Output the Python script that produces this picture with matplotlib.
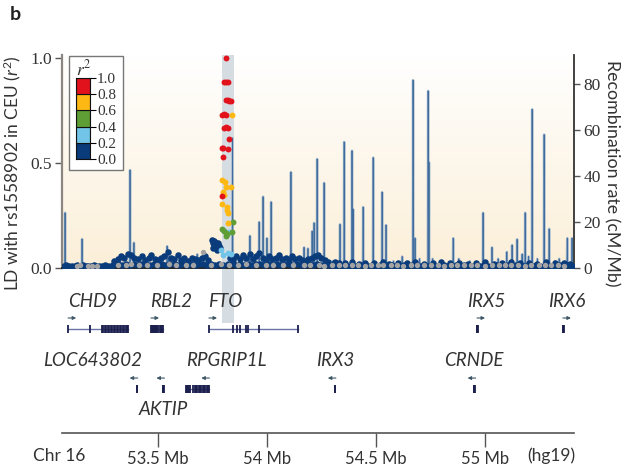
import numpy as np
import matplotlib
matplotlib.use("Agg")
import matplotlib.pyplot as plt
from matplotlib.patches import Rectangle
from matplotlib.colors import LinearSegmentedColormap

plt.rcParams["font.family"] = ["Lato", "DejaVu Sans"]
plt.rcParams["mathtext.fontset"] = "custom"
plt.rcParams["mathtext.it"] = "Lato:italic"
plt.rcParams["mathtext.rm"] = "Lato"

# ---- data -----------------------------------------------------------------
x_min, x_max = 53.06, 55.408
band_start, band_end = 53.794, 53.849   # highlighted region around rs1558902

# recombination rate peaks (cM/Mb)
recomb_pos = [53.074, 53.152, 53.372, 53.390, 53.542, 53.842, 53.922, 53.964,
              53.982, 54.000, 54.019, 54.051, 54.110, 54.170, 54.188, 54.207,
              54.216, 54.230, 54.262, 54.335, 54.354, 54.390, 54.395, 54.441,
              54.487, 54.528, 54.546, 54.670, 54.679, 54.739, 54.743, 54.854,
              54.991, 55.032, 55.124, 55.147, 55.184, 55.216, 55.271, 55.294,
              55.377, 55.399,
              53.55, 53.60, 53.63, 53.68, 53.70, 53.90, 54.06, 54.30, 54.58,
              54.62, 54.70, 54.76, 54.80, 54.88, 54.93, 55.06, 55.10, 55.17,
              55.20, 55.24, 55.32, 55.34]
recomb_rate = [24, 12.6, 42.6, 11, 9.5, 56.5, 14, 20,
               31, 13, 28.7, 6, 41.7, 9, 8.5, 16,
               19.6, 47.4, 37, 19, 54.8, 51, 25.6, 26.5,
               48, 33, 18.7, 81.7, 13, 77, 46, 13,
               24, 9, 10, 12.5, 24, 69, 58, 17,
               13, 13,
               5, 4, 3, 6, 4, 5, 4, 3, 3,
               5, 4, 4, 3, 4, 3, 4, 7, 6,
               5, 4, 3, 4]

# SNPs with r2 < 0.2
navy_pos = [53.068, 53.080, 53.093, 53.105, 53.118, 53.130, 53.142, 53.155, 53.168,
            53.180, 53.193, 53.206, 53.218, 53.231, 53.244, 53.257, 53.270, 53.283,
            53.296, 53.315, 53.333, 53.352, 53.371, 53.389, 53.408, 53.427, 53.445,
            53.464, 53.483, 53.501, 53.520, 53.539, 53.557, 53.576, 53.595, 53.613,
            53.632, 53.651, 53.669, 53.688, 53.707, 53.725, 53.744, 53.763, 53.781,
            53.800, 53.819, 53.837, 53.856, 53.875, 53.893, 53.912, 53.931, 53.949,
            53.968, 53.987, 54.005, 54.024, 54.043, 54.061, 54.080, 54.099, 54.117,
            54.136, 54.155, 54.173, 54.192, 54.211, 54.229, 54.248, 54.267, 54.285,
            53.300, 53.318, 53.330, 53.345, 53.362, 53.375, 53.392, 53.410, 53.425,
            53.440, 53.458, 53.470, 53.485, 53.500, 53.515, 53.530, 53.545, 53.560,
            53.575, 53.590, 53.605, 53.620, 53.640, 53.655, 53.670, 53.685, 53.700,
            53.715, 53.730,
            53.749, 53.752, 53.756, 53.760, 53.764, 53.768, 53.772, 53.776, 53.780,
            53.783, 53.752, 53.770,
            53.830, 53.845, 53.860, 53.875, 53.890, 53.905, 53.920, 53.935, 53.950,
            53.965, 53.980, 53.995, 54.010, 54.025, 54.040, 54.055, 54.070, 54.085,
            54.100, 54.115, 54.130, 54.145, 54.160, 54.175, 54.190, 54.205, 54.220,
            54.235, 54.250, 54.265, 54.280,
            54.300, 54.318, 54.337, 54.355, 54.373, 54.392, 54.410, 54.428, 54.447,
            54.465, 54.483, 54.502, 54.520, 54.538, 54.557, 54.575, 54.593, 54.612,
            54.630, 54.648, 54.667, 54.685, 54.703, 54.722, 54.740, 54.758, 54.777,
            54.795, 54.813, 54.832, 54.850, 54.868, 54.887, 54.905, 54.923, 54.942,
            54.960, 54.978, 54.997, 55.015, 55.033, 55.052, 55.070, 55.088, 55.107,
            55.125, 55.143, 55.162, 55.180, 55.198, 55.217, 55.235, 55.253, 55.272,
            55.290, 55.308, 55.327, 55.345, 55.363, 55.382, 55.398,
            54.310, 54.330, 54.360, 54.390, 54.420, 54.450, 54.490, 54.530, 54.560,
            54.600, 54.640, 54.680, 54.720, 54.760, 54.800, 54.840, 54.880, 54.920,
            54.960, 55.000, 55.040, 55.080, 55.120, 55.160, 55.200, 55.240, 55.280,
            55.320, 55.360, 55.390]
navy_r2 = [0.010, 0.012, 0.009, 0.011, 0.010, 0.013, 0.010, 0.012, 0.009,
           0.011, 0.010, 0.012, 0.011, 0.009, 0.010, 0.012, 0.011, 0.010,
           0.015, 0.018, 0.014, 0.020, 0.016, 0.019, 0.015, 0.017, 0.021,
           0.014, 0.018, 0.016, 0.020, 0.015, 0.019, 0.017, 0.014, 0.018,
           0.016, 0.021, 0.015, 0.018, 0.017, 0.014, 0.019, 0.016, 0.020,
           0.015, 0.018, 0.017, 0.014, 0.019, 0.016, 0.020, 0.015, 0.018,
           0.017, 0.014, 0.019, 0.016, 0.021, 0.015, 0.018, 0.017, 0.014,
           0.019, 0.016, 0.015, 0.018, 0.014, 0.017, 0.015, 0.013, 0.016,
           0.035, 0.045, 0.055, 0.050, 0.068, 0.060, 0.050, 0.045, 0.055,
           0.040, 0.050, 0.060, 0.045, 0.040, 0.050, 0.055, 0.075, 0.050,
           0.045, 0.060, 0.040, 0.050, 0.035, 0.050, 0.045, 0.040, 0.050,
           0.055, 0.040,
           0.133, 0.120, 0.127, 0.110, 0.118, 0.100, 0.112, 0.120, 0.105,
           0.095, 0.095, 0.085,
           0.050, 0.040, 0.055, 0.045, 0.060, 0.050, 0.065, 0.045, 0.055,
           0.070, 0.050, 0.040, 0.055, 0.045, 0.050, 0.060, 0.045, 0.050,
           0.040, 0.055, 0.045, 0.050, 0.040, 0.035, 0.045, 0.050, 0.055,
           0.060, 0.050, 0.040, 0.030,
           0.012, 0.010, 0.013, 0.011, 0.009, 0.012, 0.010, 0.014, 0.011,
           0.009, 0.012, 0.010, 0.013, 0.011, 0.010, 0.012, 0.009, 0.011,
           0.013, 0.010, 0.012, 0.011, 0.009, 0.012, 0.010, 0.013, 0.011,
           0.010, 0.012, 0.009, 0.011, 0.013, 0.010, 0.012, 0.011, 0.009,
           0.012, 0.010, 0.013, 0.011, 0.010, 0.012, 0.009, 0.011, 0.013,
           0.010, 0.012, 0.011, 0.009, 0.012, 0.010, 0.013, 0.011, 0.010,
           0.012, 0.009, 0.011, 0.013, 0.010, 0.012, 0.011,
           0.030, 0.025, 0.022, 0.028, 0.020, 0.025, 0.022, 0.030, 0.020,
           0.025, 0.022, 0.028, 0.020, 0.025, 0.030, 0.022, 0.026, 0.020,
           0.024, 0.028, 0.020, 0.025, 0.030, 0.022, 0.026, 0.020, 0.028,
           0.022, 0.025, 0.020]

# SNPs without LD information
gray_pos = [53.128, 53.142, 53.178, 53.196, 53.222, 53.318, 53.352, 53.378, 53.412,
            53.448, 53.497, 53.552, 53.585, 53.628, 53.662, 53.707, 53.742, 53.790,
            53.826, 53.866, 53.902, 53.948, 53.996, 54.028, 54.072, 54.118, 54.168,
            54.198, 54.238, 54.262, 54.296, 54.332, 54.356, 54.392, 54.418, 54.448,
            54.478, 54.510, 54.532, 54.568, 54.596, 54.622, 54.662, 54.690, 54.720,
            54.752, 54.786, 54.810, 54.842, 54.872, 54.904, 54.934, 54.962, 54.998,
            55.030, 55.062, 55.092, 55.118, 55.152, 55.184, 55.212, 55.246, 55.276,
            55.304, 55.336, 55.362]
gray_r2 = [0.010, 0.012, 0.010, 0.011, 0.010, 0.014, 0.012, 0.020, 0.013,
           0.015, 0.012, 0.018, 0.013, 0.016, 0.012, 0.076, 0.015, 0.020,
           0.012, 0.014, 0.018, 0.012, 0.016, 0.013, 0.015, 0.012, 0.014,
           0.012, 0.013, 0.011, 0.013, 0.012, 0.014, 0.012, 0.013, 0.011,
           0.013, 0.012, 0.014, 0.012, 0.013, 0.011, 0.013, 0.012, 0.014,
           0.012, 0.013, 0.011, 0.013, 0.012, 0.014, 0.012, 0.013, 0.011,
           0.013, 0.012, 0.014, 0.012, 0.013, 0.011, 0.013, 0.012, 0.014,
           0.012, 0.013, 0.011]

lblue_pos = [53.799, 53.826, 53.789, 53.821, 53.799, 53.835]
lblue_r2 = [0.181, 0.171, 0.086, 0.071, 0.062, 0.067]

green_pos = [53.794, 53.812, 53.817, 53.812, 53.844, 53.840, 53.803]
green_r2 = [0.186, 0.167, 0.162, 0.152, 0.219, 0.171, 0.176]

yellow_pos = [53.794, 53.808, 53.812, 53.835, 53.799, 53.803, 53.794, 53.817,
              53.817, 53.821, 53.821, 53.840]
yellow_r2 = [0.419, 0.410, 0.386, 0.386, 0.362, 0.348, 0.305, 0.290,
             0.276, 0.262, 0.214, 0.728]

red_pos = [53.812, 53.805, 53.812, 53.819, 53.812, 53.819, 53.826, 53.833,
           53.795, 53.803, 53.810, 53.805, 53.813, 53.820, 53.826, 53.794,
           53.800, 53.821, 53.799, 53.794]
red_r2 = [1.0, 0.886, 0.886, 0.886, 0.800, 0.800, 0.795, 0.797,
          0.728, 0.732, 0.728, 0.667, 0.672, 0.667, 0.614, 0.571,
          0.571, 0.567, 0.529, 0.343]

# genes
gene_names = ["CHD9", "RBL2", "FTO", "IRX5", "IRX6",
              "LOC643802", "AKTIP", "RPGRIP1L", "IRX3", "CRNDE"]
gene_start = [53.088, 53.468, 53.734, 54.963, 55.357,
              53.403, 53.521, 53.629, 54.311, 54.948]
gene_end = [53.363, 53.525, 54.143, 54.966, 55.361,
            53.405, 53.528, 53.734, 54.314, 54.955]
gene_strand = [1, 1, 1, 1, 1, -1, -1, -1, -1, -1]
gene_row = [0, 0, 0, 0, 0, 1, 1, 1, 1, 1]
gene_exons = [
    [53.088, 53.19, 53.245, 53.250, 53.256, 53.262, 53.270, 53.276, 53.284,
     53.290, 53.297, 53.305, 53.311, 53.318, 53.325, 53.332, 53.338, 53.345,
     53.352, 53.358, 53.363],
    [53.468, 53.472, 53.477, 53.482, 53.487, 53.492, 53.497, 53.502, 53.508,
     53.515, 53.520, 53.525],
    [53.734, 53.845, 53.862, 53.875, 53.903, 53.912, 53.963, 54.143],
    [54.963, 54.965, 54.966],
    [55.357, 55.359, 55.361],
    [53.403, 53.405],
    [53.521, 53.524, 53.528],
    [53.629, 53.634, 53.639, 53.644, 53.649, 53.663, 53.668, 53.674, 53.680,
     53.686, 53.692, 53.698, 53.705, 53.712, 53.718, 53.724, 53.730, 53.734],
    [54.311, 54.314],
    [54.948, 54.951, 54.955],
]
label_x = [53.200, 53.560, 53.810, 55.007, 55.374,
           53.202, 53.523, 53.812, 54.312, 54.950]
label_below = [False, False, False, False, False, False, True, False, False, False]

tick_pos = [53.5, 54.0, 54.5, 55.0]
tick_labels = ["53.5 Mb", "54 Mb", "54.5 Mb", "55 Mb"]

legend_colors = ["#0a3c7c", "#72c5e8", "#5f9e35", "#fdb813", "#e2121c"]
legend_ticks = [0.0, 0.2, 0.4, 0.6, 0.8, 1.0]

# ---- figure ---------------------------------------------------------------
W, H = 630, 472
fig = plt.figure(figsize=(W / 100, H / 100), dpi=100)

def fx(px):
    return px / W

def fy(py):
    return 1 - py / H

ax = fig.add_axes([fx(62), fy(268), fx(574) - fx(62), fy(55) - fy(268)])
ax2 = ax.twinx()
ax.set_zorder(ax2.get_zorder() + 1)
ax.patch.set_visible(False)

r2_top = 1.0143
rate_top = 92.6
ax.set_xlim(x_min, x_max)
ax2.set_xlim(x_min, x_max)
ax.set_ylim(0, r2_top)
ax2.set_ylim(0, rate_top)

# background gradient
grad = np.linspace(0, 1, 256).reshape(-1, 1)
bg_cmap = LinearSegmentedColormap.from_list("bg", ["#fbefd8", "#ffffff"])
ax2.imshow(grad, extent=[x_min, x_max, 0, rate_top], aspect="auto",
           origin="lower", cmap=bg_cmap, zorder=0)
ax2.axvspan(band_start, band_end, color="#d5dde2", zorder=1, lw=0)

# recombination line
base = 0.8
w = 0.0016
order = np.argsort(recomb_pos)
rx, ry = [x_min], [base]
for i in order:
    p, r = recomb_pos[i], recomb_rate[i]
    rx += [p - w, p, p + w]
    ry += [base, r, base]
rx.append(x_max)
ry.append(base)
ax2.plot(rx, ry, color="#aebfd1", lw=1.8, zorder=2)
ax2.plot(rx, ry, color="#3f6c9c", lw=0.6, zorder=3)

# SNPs
ms = 22
ax.scatter(navy_pos, navy_r2, s=ms, color="#0a3c7c", lw=0, zorder=3)
ax.scatter(gray_pos, gray_r2, s=15, color="#a3a3a3", lw=0, zorder=4)
ax.scatter(lblue_pos, lblue_r2, s=18, color="#72c5e8", lw=0, zorder=5)
ax.scatter(green_pos, green_r2, s=18, color="#5f9e35", lw=0, zorder=5)
ax.scatter(yellow_pos, yellow_r2, s=18, color="#fdb813", lw=0, zorder=5)
ax.scatter(red_pos, red_r2, s=18, color="#e2121c", lw=0, zorder=6)

serif = "Liberation Serif"
ax.spines["top"].set_visible(False)
ax2.spines["top"].set_visible(False)
ax.spines["right"].set_visible(False)
ax2.spines["left"].set_visible(False)
ax2.spines["bottom"].set_visible(False)
ax.spines["left"].set_color("#8c8580")
ax.spines["left"].set_linewidth(1.6)
ax.spines["bottom"].set_color("#222222")
ax.spines["bottom"].set_linewidth(1.4)
ax2.spines["right"].set_color("#333333")
ax2.spines["right"].set_linewidth(1.3)
ax.set_xticks([])
ax.set_yticks([0, 0.5, 1.0])
ax.set_yticklabels(["0.0", "0.5", "1.0"], fontfamily=serif, fontsize=12.5, color="#333333")
ax.tick_params(axis="y", length=5, width=1, color="#555555", pad=2)
ax2.set_yticks([0, 20, 40, 60, 80])
ax2.set_yticklabels(["0", "20", "40", "60", "80"], fontfamily=serif, fontsize=12.5,
                    color="#333333")
ax2.tick_params(axis="y", length=4, width=1, color="#555555", pad=3)
ax.set_ylabel("LD with rs1558902 in CEU ($r^2$)", fontsize=12.5, color="#333333")
ax.yaxis.set_label_coords((23 - 62) / 512, 0.444)
ax2.set_ylabel("Recombination rate (cM/Mb)", fontsize=12.8, color="#333333",
               rotation=270, va="center")
ax2.yaxis.set_label_coords((612 - 62) / 512, 0.445)

# gene track
gax = fig.add_axes([fx(62), fy(433), fx(574) - fx(62), fy(268) - fy(433)])
gax.set_xlim(x_min, x_max)
gax.set_ylim(0, 1)
gax.patch.set_visible(False)
for s in ["top", "left", "right"]:
    gax.spines[s].set_visible(False)
gax.spines["bottom"].set_color("#555555")
gax.spines["bottom"].set_linewidth(1.2)
gax.set_yticks([])
gax.set_xticks(tick_pos)
gax.set_xticklabels(tick_labels, fontsize=12, color="#333333")
gax.tick_params(axis="x", length=10, width=1, color="#555555", pad=3)
gax.axvspan(band_start, band_end, ymin=0.667, ymax=1.0, color="#d5dde2", lw=0, zorder=0)

row_gene_y = [0.630, 0.267]
row_arrow_y = [0.697, 0.333]
row_label_y = [0.794, 0.442]
below_label_y = 0.145
arrow_len = 0.037
exon_h = 0.026
for i, name in enumerate(gene_names):
    y = row_gene_y[gene_row[i]]
    if gene_end[i] - gene_start[i] > 0.01:
        gax.plot([gene_start[i], gene_end[i]], [y, y], color="#6a74a8", lw=1.0, zorder=2)
    gax.vlines(gene_exons[i], y - exon_h, y + exon_h, color="#1b1f4d", lw=1.3, zorder=3)
    ya = row_arrow_y[gene_row[i]]
    if gene_strand[i] > 0:
        x0, x1 = gene_start[i], gene_start[i] + arrow_len
    else:
        x0, x1 = gene_end[i] + 0.002, gene_end[i] + 0.002 - arrow_len
    gax.annotate("", xy=(x1, ya), xytext=(x0, ya),
                 arrowprops=dict(arrowstyle="-|>", color="#3d5666", lw=0.8,
                                 mutation_scale=5, shrinkA=0, shrinkB=0))
    ly = below_label_y if label_below[i] else row_label_y[gene_row[i]]
    gax.text(label_x[i], ly, name, style="italic", fontsize=13.5, color="#333333",
             ha="center", va="center")

fig.text(fx(33), fy(456), "Chr 16", fontsize=12.5, color="#333333", ha="left", va="center")
fig.text(fx(527), fy(456), "(hg19)", fontsize=12.5, color="#333333", ha="left", va="center")
fig.text(fx(10), fy(15), "b", fontsize=14, fontweight="bold", color="#222222",
         ha="left", va="center")

# legend
fig.add_artist(Rectangle((fx(69), fy(170)), fx(123) - fx(69), fy(56) - fy(170),
                         transform=fig.transFigure, facecolor="white",
                         edgecolor="#777777", lw=1.0, zorder=5))
cax = fig.add_axes([fx(76), fy(159), fx(90) - fx(76), fy(78) - fy(159)])
cax.set_zorder(6)
for k, c in enumerate(legend_colors):
    cax.bar(0, 0.2, bottom=legend_ticks[k], width=1, color=c,
            edgecolor="#111111", lw=0.8)
cax.set_xlim(-0.5, 0.5)
cax.set_ylim(0, 1)
cax.set_xticks([])
cax.yaxis.tick_right()
cax.set_yticks(legend_ticks)
cax.set_yticklabels([f"{t:.1f}" for t in legend_ticks], fontfamily=serif,
                    fontsize=11, color="#333333")
cax.tick_params(axis="y", length=4, width=0.8, pad=1)
for s in cax.spines.values():
    s.set_color("#111111")
fig.text(fx(84), fy(68), "$r^2$", math_fontfamily="stix", fontsize=12.5,
         color="#333333", ha="center", va="center", zorder=7)

fig.savefig("out.png", dpi=100)
